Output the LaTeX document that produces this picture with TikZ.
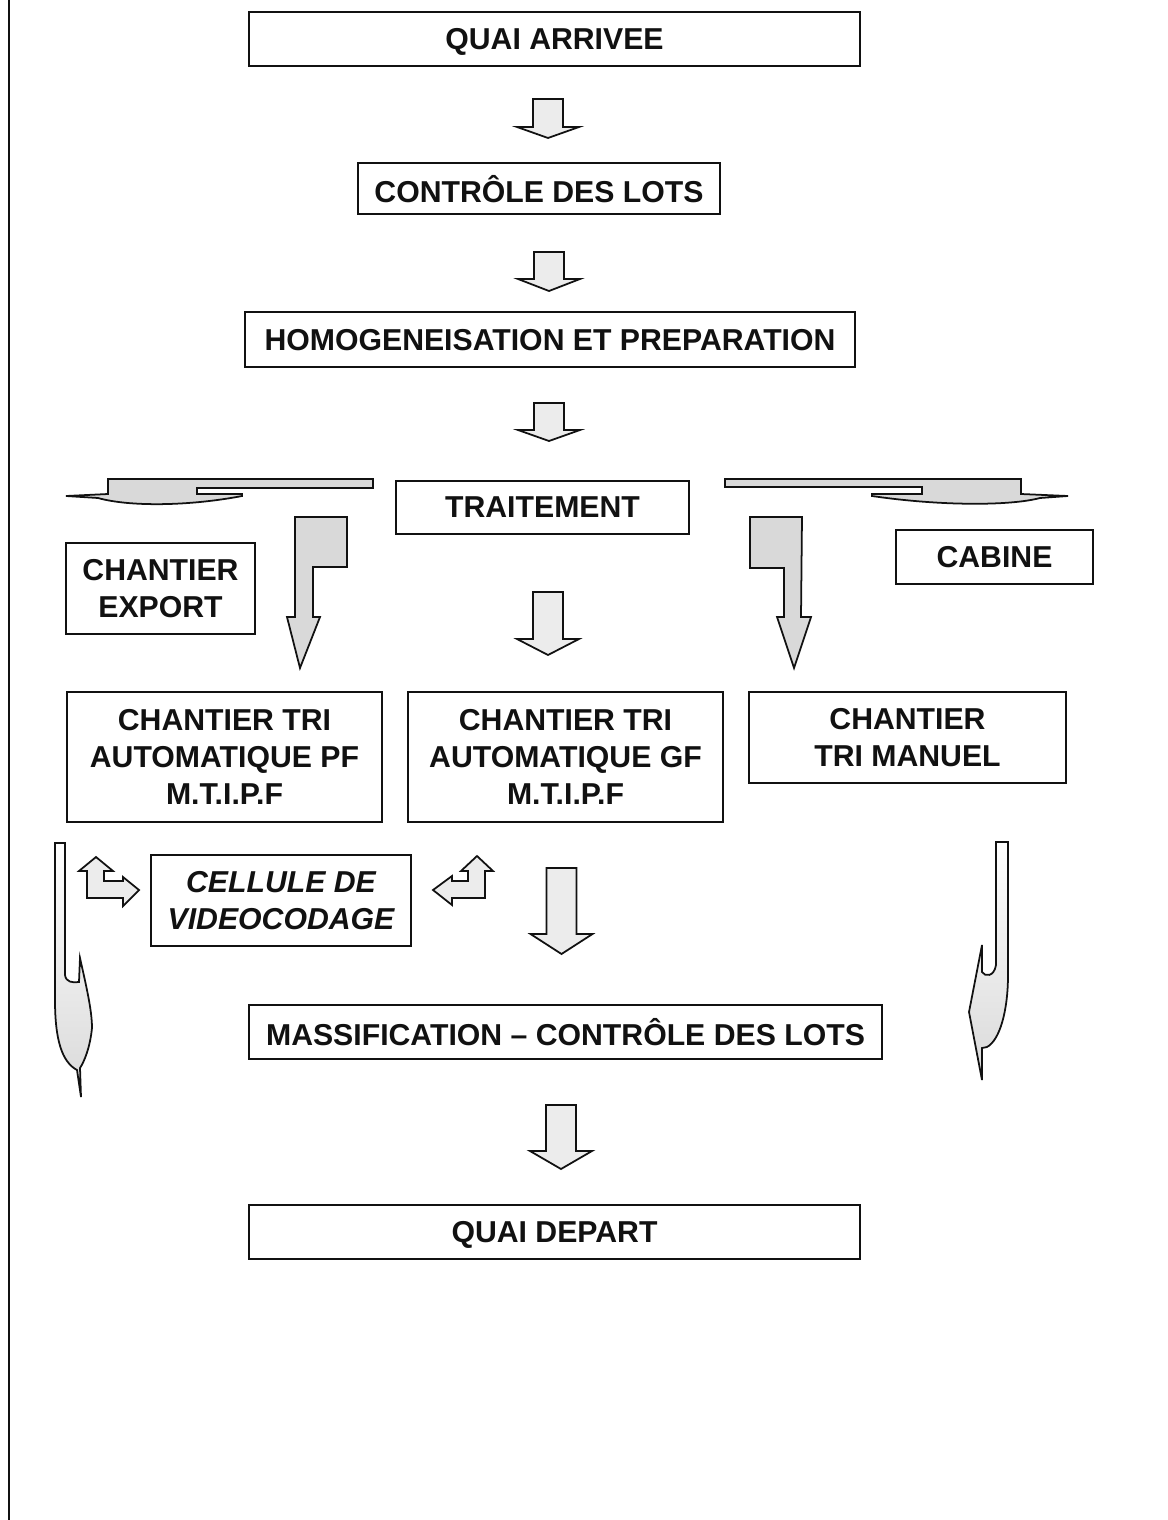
\documentclass[tikz,border=0pt]{standalone}
\usepackage{fontspec}
\setmainfont{Liberation Sans}
\definecolor{Paper}{HTML}{FFFFFF}
\definecolor{Ink}{HTML}{111111}
\definecolor{Dots}{HTML}{ECECEC}
\definecolor{DotsDark}{HTML}{D9D9D9}
% block arrow pointing down: centre x, shaft top, head base, tip
\newcommand\dnarrow[4]{\filldraw[blk] (#1-15,#2)--(#1+15,#2)--(#1+15,#3)--(#1+31,#3)--(#1,#4)--(#1-31,#3)--(#1-15,#3)--cycle;}

\begin{document}
\begin{tikzpicture}[x=0.02cm,y=-0.02cm,
  box/.style={draw=Ink,line width=0.9pt,inner sep=0pt,align=center,text=Ink,font=\fontsize{17.2}{21.3}\selectfont\bfseries},
  single/.style={box,text depth=0pt,minimum height=1.08cm},
  blk/.style={draw=Ink,line width=1pt,fill=Dots,line join=miter},
  blkdark/.style={blk,fill=DotsDark}]
\useasboundingbox (0,0) rectangle (1167,1520);
\fill[Paper] (0,0) rectangle (1167,1520);
\draw[Ink,line width=1.2pt] (9,0)--(9,1520);

% main column
\node[single,minimum width=12.22cm] (arrivee) at (554.5,39) {QUAI ARRIVEE};
\node[single,minimum width=7.24cm,minimum height=1.02cm] (controle) at (539,188.5) {CONTRÔLE DES LOTS};
\node[single,minimum width=12.2cm,minimum height=1.1cm] (homog) at (550,339.5) {HOMOGENEISATION ET PREPARATION};
\node[single,minimum width=5.86cm,minimum height=1.06cm] (traitement) at (542.5,507.5) {TRAITEMENT};
\node[box,minimum width=3.78cm,minimum height=1.82cm] (export) at (160.5,588.5) {CHANTIER\\EXPORT};
\node[single,minimum width=3.94cm] (cabine) at (994.5,557) {CABINE};
\node[box,minimum width=6.3cm,minimum height=2.6cm] (pf) at (224.5,757) {CHANTIER TRI\\AUTOMATIQUE PF\\M.T.I.P.F};
\node[box,minimum width=6.3cm,minimum height=2.6cm] (gf) at (565.5,757) {CHANTIER TRI\\AUTOMATIQUE GF\\M.T.I.P.F};
\node[box,minimum width=6.34cm,minimum height=1.82cm] (manuel) at (907.5,737.5) {CHANTIER\\TRI MANUEL};
\node[box,minimum width=5.2cm,minimum height=1.82cm,font=\fontsize{17.2}{21.3}\selectfont\bfseries\itshape] (video) at (281,900.5) {CELLULE DE\\VIDEOCODAGE};
\node[single,minimum width=12.66cm] (massif) at (565.5,1032) {MASSIFICATION -- CONTRÔLE DES LOTS};
\node[single,minimum width=12.22cm] (depart) at (554.5,1232) {QUAI DEPART};

% straight block arrows
\dnarrow{548}{99}{127}{138}
\dnarrow{549}{252}{279}{291}
\dnarrow{549}{403}{430}{441}
\dnarrow{548}{592}{639}{655}
\dnarrow{561.5}{868}{934}{954}
\dnarrow{561}{1105}{1151}{1169}

% side arrows beside TRAITEMENT
\filldraw[blkdark] (373,479)--(108,479)--(108,494)--(66,496)--(98,498)
  .. controls (130,507) and (190,506) .. (242,496)--(242,494)--(197,494)--(197,488)--(373,488)--cycle;
\filldraw[blkdark] (725,479)--(1021,479)--(1021,494)--(1068,496)--(1040,498)
  .. controls (1010,506) and (940,506) .. (872,496)--(872,494)--(922,494)--(922,487)--(725,487)--cycle;
\filldraw[blkdark] (295,517)--(347,517)--(347,567)--(313,567)--(313,617)--(320,617)--(300,668)--(287,617)--(295,617)--cycle;
\filldraw[blkdark] (750,517)--(802,517)--(801,617)--(811,617)--(794,668)--(777,617)--(784,617)--(784,568)--(750,568)--cycle;

% arrows round the video coding cell
\filldraw[blk] (96,857)--(113,871)--(104,871)--(104,881)--(123,881)--(123,877)--(139,890)--(123,906)--(123,898)--(87,898)--(87,871)--(79,871)--cycle;
\filldraw[blk] (477,856)--(493,871)--(485,871)--(485,898)--(452,898)--(452,905)--(433,890)--(452,876)--(452,881)--(468,881)--(468,871)--(461,871)--cycle;

% long bypass arrows
\filldraw[draw=Ink,line width=1pt,top color=Paper,bottom color=DotsDark] (55,843)--(65,843)--(65,975)
  .. controls (66,982) and (72,983) .. (79,982)--(80,958)
  .. controls (86,985) and (92,1010) .. (92,1028)
  .. controls (90,1048) and (84,1062) .. (80,1068)--(81,1097)--(77,1070)
  .. controls (62,1062) and (55,1040) .. (55,1000)--cycle;
\filldraw[draw=Ink,line width=1pt,top color=Paper,bottom color=DotsDark] (996,842)--(1008,842)--(1008,975)
  .. controls (1008,1010) and (1000,1040) .. (987,1047)--(982,1048)--(982,1080)--(969,1012)--(982,945)--(982,972)
  .. controls (985,977) and (994,977) .. (996,965)--cycle;
\end{tikzpicture}
\end{document}
